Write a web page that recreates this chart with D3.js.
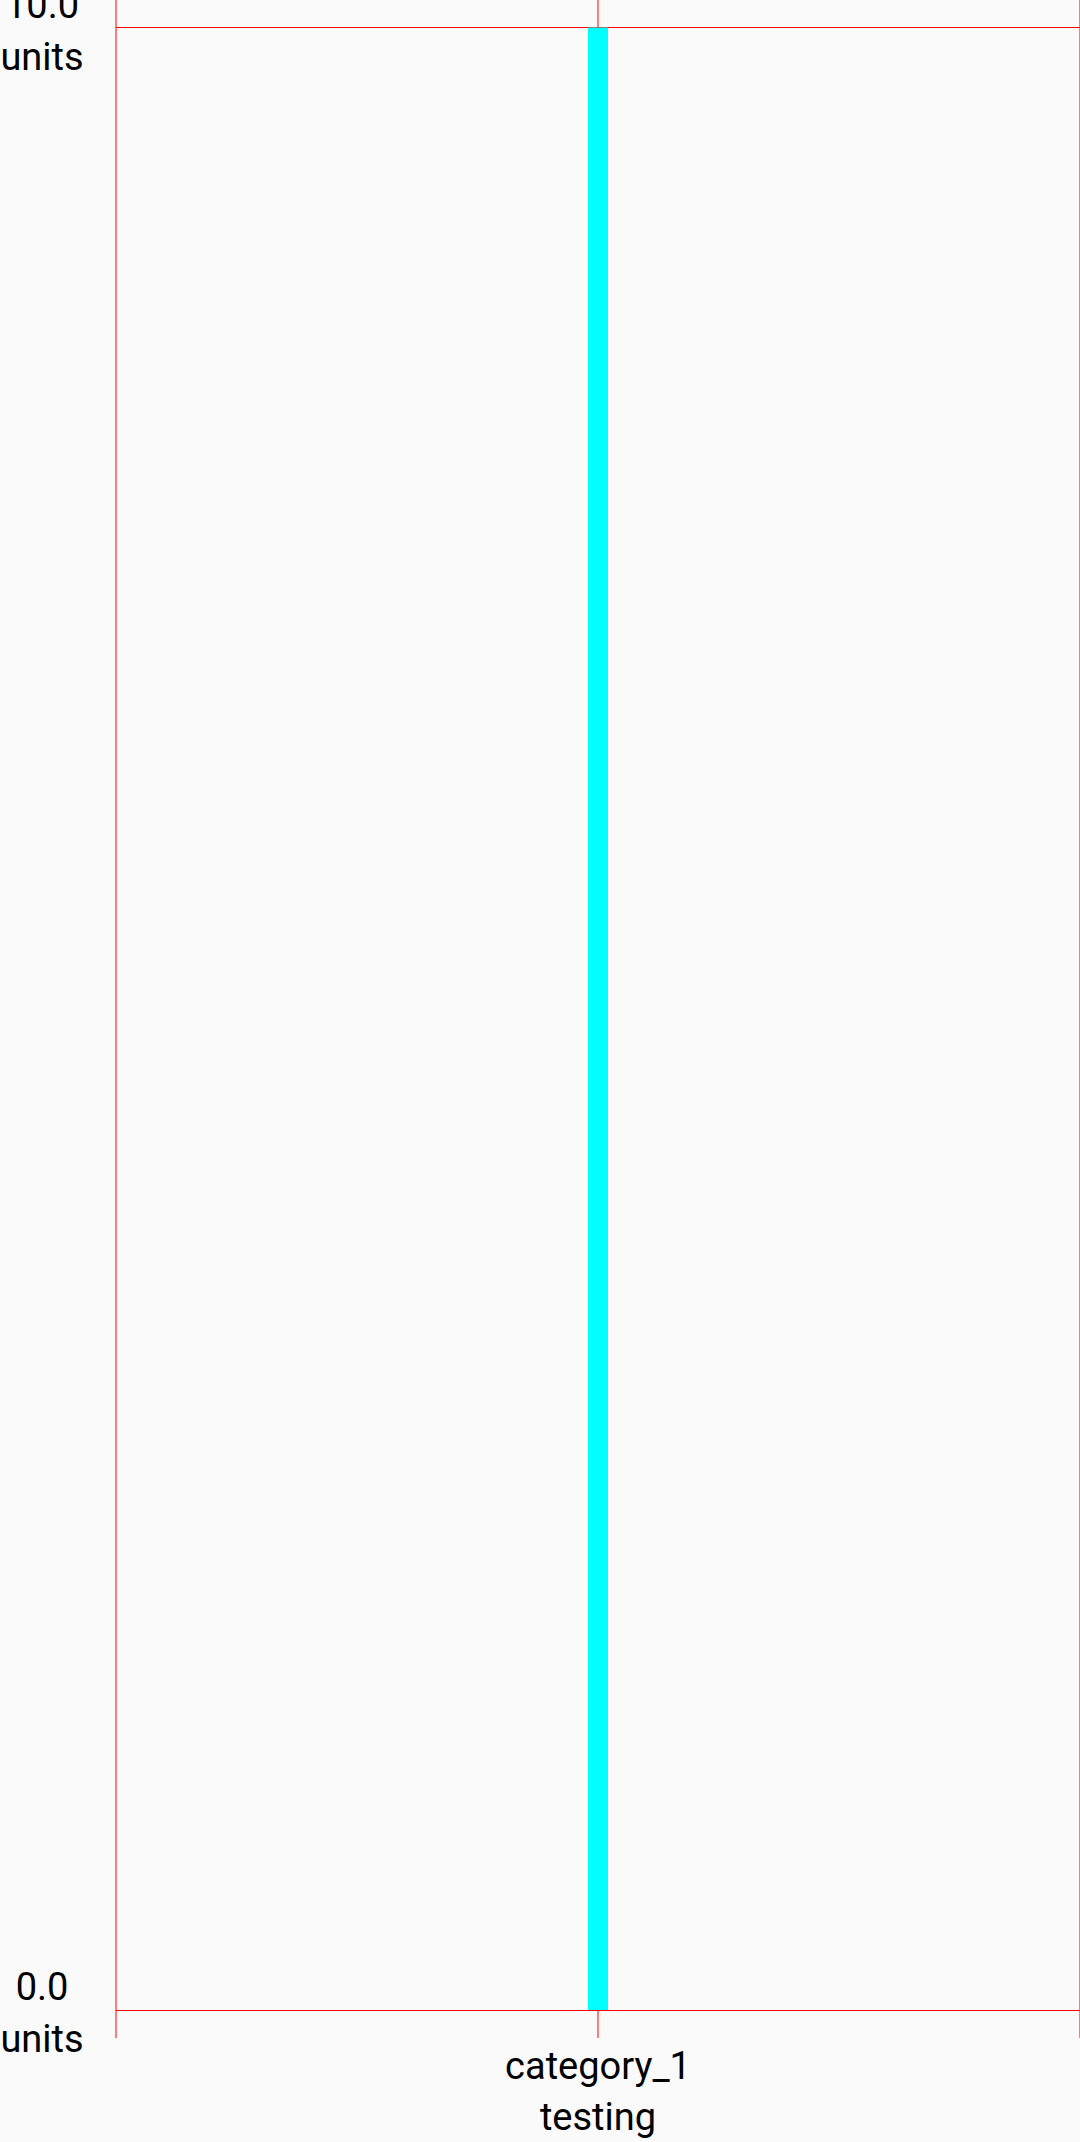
<!DOCTYPE html>
<html><head><meta charset="utf-8">
<script src="https://cdn.jsdelivr.net/npm/d3@7"></script>
<style>
html,body{margin:0;padding:0;background:#fafafa;overflow:hidden;}
svg{display:block;}
text{font-family:Roboto,sans-serif;font-size:38px;fill:#000;}
</style></head>
<body>
<script>
const categories = ["category_1"];
const values = [10];
const yTicks = [0, 10];
const yUnit = "units";
const xSubtitle = "testing";

(function () {
const W = 1080, H = 2142;
const mLeft = 116, mRight = 1080, mTop = 27.5, mBottom = 2010;
const svg = d3.select("body").append("svg").attr("width", W).attr("height", H);

const x = d3.scaleBand().domain(categories).range([mLeft, mRight]).padding(0);
const y = d3.scaleLinear().domain([0, 10]).range([mBottom, mTop]);

// vertical grid lines (band edges and centers)
const vx = [];
categories.forEach(c => { vx.push(x(c)); vx.push(x(c) + x.bandwidth() / 2); });
vx.push(x(categories[categories.length - 1]) + x.bandwidth());
svg.append("g").selectAll("line").data(vx).join("line")
  .attr("x1", d => d).attr("x2", d => d)
  .attr("y1", mTop - 29).attr("y2", mBottom + 28)
  .attr("stroke", "#ff0000").attr("stroke-opacity", 0.5).attr("stroke-width", 2);

// horizontal grid lines
svg.append("g").selectAll("line").data(yTicks).join("line")
  .attr("x1", mLeft).attr("x2", mRight)
  .attr("y1", d => Math.floor(y(d)) + 0.5).attr("y2", d => Math.floor(y(d)) + 0.5)
  .attr("stroke", "#ff0000").attr("stroke-width", 1);

// bars
const barW = 20;
svg.append("g").selectAll("rect").data(values).join("rect")
  .attr("x", (d, i) => x(categories[i]) + x.bandwidth() / 2 - barW / 2)
  .attr("width", barW)
  .attr("y", d => y(d))
  .attr("height", d => y(0) - y(d))
  .attr("fill", "#00ffff");

// y labels
const yl = svg.append("g").selectAll("text").data(yTicks).join("text")
  .attr("text-anchor", "middle")
  .attr("x", 42)
  .attr("y", d => y(d));
yl.append("tspan").attr("x", 42).attr("dy", -10).text(d => d.toFixed(1));
yl.append("tspan").attr("x", 42).attr("dy", 52).text(yUnit);

// x labels
const xl = svg.append("g").selectAll("text").data(categories).join("text")
  .attr("text-anchor", "middle")
  .attr("x", d => x(d) + x.bandwidth() / 2)
  .attr("y", mBottom + 69);
xl.append("tspan").attr("x", d => x(d) + x.bandwidth() / 2).text(d => d);
xl.append("tspan").attr("x", d => x(d) + x.bandwidth() / 2).attr("dy", 51).text(xSubtitle);
})();
</script>
</body></html>
